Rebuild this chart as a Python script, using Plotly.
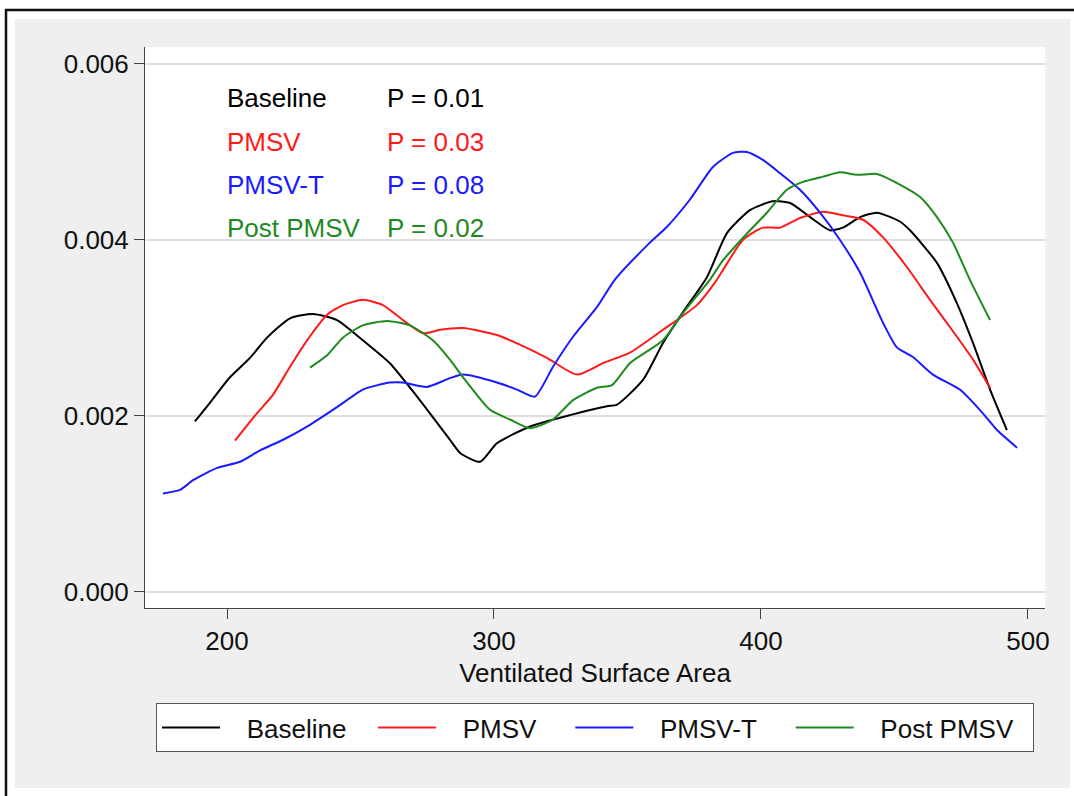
import plotly.graph_objects as go

# ---------------- data ----------------
baseline_x = [188.0, 193.6, 201.1, 208.6, 215.0, 223.6, 232.2, 241.2, 250.9, 261.0, 271.2, 283.5,
              287.3, 294.8, 301.1, 313.5, 328.5, 342.3, 346.1, 355.8, 363.3, 370.8, 379.8, 387.3,
              395.9, 404.5, 410.9, 418.4, 425.8, 430.7, 437.1, 443.4, 452.0, 455.8, 465.9, 473.4,
              479.4, 485.8, 492.1]
baseline_y = [0.00194, 0.00215, 0.00244, 0.00266, 0.00289, 0.00311, 0.00316, 0.00309, 0.00286,
              0.00260, 0.00222, 0.00173, 0.00158, 0.00148, 0.00169, 0.00188, 0.00201, 0.00211,
              0.00213, 0.00241, 0.00283, 0.00318, 0.00358, 0.00408, 0.00434, 0.00444, 0.00442,
              0.00426, 0.00411, 0.00414, 0.00426, 0.00431, 0.00421, 0.00411, 0.00374, 0.00328,
              0.00283, 0.00230, 0.00184]

pmsv_x = [203.0, 211.2, 217.2, 223.6, 230.0, 237.5, 243.4, 250.9, 258.4, 265.9, 273.4, 279.8,
          288.4, 301.1, 309.7, 319.8, 331.1, 340.8, 350.9, 363.3, 376.0, 383.5, 385.8, 393.2,
          400.7, 407.1, 414.6, 423.2, 430.7, 438.2, 445.7, 454.7, 463.3, 473.4, 479.4, 485.8]
pmsv_y = [0.00172, 0.00203, 0.00224, 0.00256, 0.00286, 0.00315, 0.00326, 0.00332, 0.00326,
          0.00309, 0.00294, 0.00298, 0.00300, 0.00292, 0.00281, 0.00266, 0.00247, 0.00260,
          0.00272, 0.00298, 0.00326, 0.00355, 0.00366, 0.00400, 0.00414, 0.00414, 0.00425,
          0.00432, 0.00428, 0.00423, 0.00403, 0.00369, 0.00332, 0.00290, 0.00264, 0.00232]

pmsvt_x = [176.0, 182.4, 187.3, 196.3, 204.9, 212.4, 221.0, 231.1, 241.2, 250.9, 261.0, 265.9,
           274.9, 283.5, 288.4, 301.1, 308.6, 315.3, 322.1, 329.6, 338.6, 345.3, 358.4, 364.8,
           373.4, 382.0, 389.5, 394.7, 400.7, 407.1, 414.6, 422.1, 429.6, 437.1, 445.7, 450.9,
           456.9, 464.4, 474.5, 483.1, 488.4, 495.9]
pmsvt_y = [0.00112, 0.00116, 0.00127, 0.00141, 0.00148, 0.00161, 0.00173, 0.00190, 0.00210,
           0.00230, 0.00238, 0.00238, 0.00233, 0.00243, 0.00247, 0.00238, 0.00230, 0.00222,
           0.00256, 0.00290, 0.00324, 0.00355, 0.00397, 0.00415, 0.00446, 0.00483, 0.00499,
           0.00500, 0.00491, 0.00476, 0.00457, 0.00431, 0.00400, 0.00363, 0.00306, 0.00278,
           0.00267, 0.00247, 0.00230, 0.00203, 0.00184, 0.00164]

post_x = [231.1, 237.5, 243.4, 250.9, 259.9, 268.5, 277.1, 283.5, 288.4, 298.5, 306.0, 313.5,
          322.1, 329.6, 338.6, 344.2, 350.9, 363.3, 370.8, 380.9, 385.8, 395.9, 402.2, 409.7,
          415.7, 423.2, 429.6, 436.0, 443.4, 452.0, 459.5, 465.9, 471.9, 478.2, 485.8]
post_y = [0.00255, 0.00269, 0.00289, 0.00303, 0.00308, 0.00303, 0.00286, 0.00264, 0.00244,
          0.00207, 0.00196, 0.00186, 0.00196, 0.00218, 0.00232, 0.00235, 0.00260, 0.00286,
          0.00317, 0.00355, 0.00377, 0.00411, 0.00431, 0.00457, 0.00466, 0.00472, 0.00477,
          0.00474, 0.00475, 0.00463, 0.00449, 0.00426, 0.00397, 0.00355, 0.00309]

series_names = ["Baseline", "PMSV", "PMSV-T", "Post PMSV"]
p_values = ["P = 0.01", "P = 0.03", "P = 0.08", "P = 0.02"]
y_ticks = [0.000, 0.002, 0.004, 0.006]
x_ticks = [200, 300, 400, 500]

colors = ["#000000", "#ff1a1a", "#1a1aff", "#1f8a1f"]
FONT = "Liberation Sans, Arial, Helvetica, sans-serif"
FS = 26
NB = "\u00a0"
lead_pad = [3, 3, 3, 3]    # legend spacing before each label (non-breaking spaces)
trail_pad = [3, 4, 4, 2]   # legend spacing after each label

fig = go.Figure()
for name, xs, ys, c, lp, tp in zip(series_names,
                                   [baseline_x, pmsv_x, pmsvt_x, post_x],
                                   [baseline_y, pmsv_y, pmsvt_y, post_y], colors,
                                   lead_pad, trail_pad):
    fig.add_trace(go.Scatter(x=xs, y=ys, mode="lines", name=NB * lp + name + NB * tp,
                             line=dict(color=c, width=2, shape="spline", smoothing=0.6)))

# --- page geometry helpers (pixels -> paper fractions) ---
W, H = 1074, 796
L, R, T, B = 145, 1045, 47, 608


def fx(px):
    return (px - L) / (R - L)


def fy(py):
    return (B - py) / (B - T)


shapes = [
    # white outer strips
    dict(type="rect", xref="paper", yref="paper", x0=fx(0), x1=fx(15), y0=fy(W), y1=fy(0),
         fillcolor="white", line=dict(width=0), layer="below"),
    dict(type="rect", xref="paper", yref="paper", x0=fx(0), x1=fx(W), y0=fy(19), y1=fy(0),
         fillcolor="white", line=dict(width=0), layer="below"),
    dict(type="rect", xref="paper", yref="paper", x0=fx(1070), x1=fx(W), y0=fy(H), y1=fy(0),
         fillcolor="white", line=dict(width=0), layer="below"),
    dict(type="rect", xref="paper", yref="paper", x0=fx(0), x1=fx(W), y0=fy(H), y1=fy(788),
         fillcolor="white", line=dict(width=0), layer="below"),
    # black border lines (top, left)
    dict(type="line", xref="paper", yref="paper", x0=fx(5), x1=fx(W), y0=fy(10), y1=fy(10),
         line=dict(color="#111111", width=2.5)),
    dict(type="line", xref="paper", yref="paper", x0=fx(6), x1=fx(6), y0=fy(9), y1=fy(H),
         line=dict(color="#111111", width=2.5)),
]

annotations = []
ann_y = [0.005614, 0.005114, 0.004625, 0.004136]
for name, pv, c, yy in zip(series_names, p_values, colors, ann_y):
    annotations.append(dict(x=199.3, y=yy, xref="x", yref="y", text=name, showarrow=False,
                            xanchor="left", yanchor="middle",
                            font=dict(family=FONT, size=FS, color=c)))
    annotations.append(dict(x=259.2, y=yy, xref="x", yref="y", text=pv, showarrow=False,
                            xanchor="left", yanchor="middle",
                            font=dict(family=FONT, size=FS, color=c)))

fig.update_layout(
    width=W, height=H,
    margin=dict(l=L, r=W - R, t=T, b=H - B, pad=0),
    paper_bgcolor="#efefef",
    plot_bgcolor="white",
    font=dict(family=FONT, size=FS, color="#111111"),
    shapes=shapes,
    annotations=annotations,
    showlegend=True,
    legend=dict(orientation="h", x=fx(156), y=fy(703), xanchor="left", yanchor="top",
                bgcolor="white", bordercolor="#555555", borderwidth=1,
                font=dict(family=FONT, size=FS, color="#111111"),
                itemwidth=58),
    xaxis=dict(range=[169.29, 506.37], tickvals=x_ticks, ticks="outside", ticklen=10,
               tickcolor="#444444", showline=True, linecolor="#444444", linewidth=1,
               showgrid=False, zeroline=False,
               title=dict(text="Ventilated Surface Area", standoff=8,
                          font=dict(family=FONT, size=FS, color="#111111"))),
    yaxis=dict(range=[-0.000182, 0.006193], tickvals=y_ticks, tickformat=".3f",
               ticks="outside", ticklen=10, tickcolor="#444444", showline=True,
               linecolor="#444444", linewidth=1, showgrid=True, gridcolor="#dedede",
               gridwidth=1.5, zeroline=False),
)

fig.write_html("out.html")
